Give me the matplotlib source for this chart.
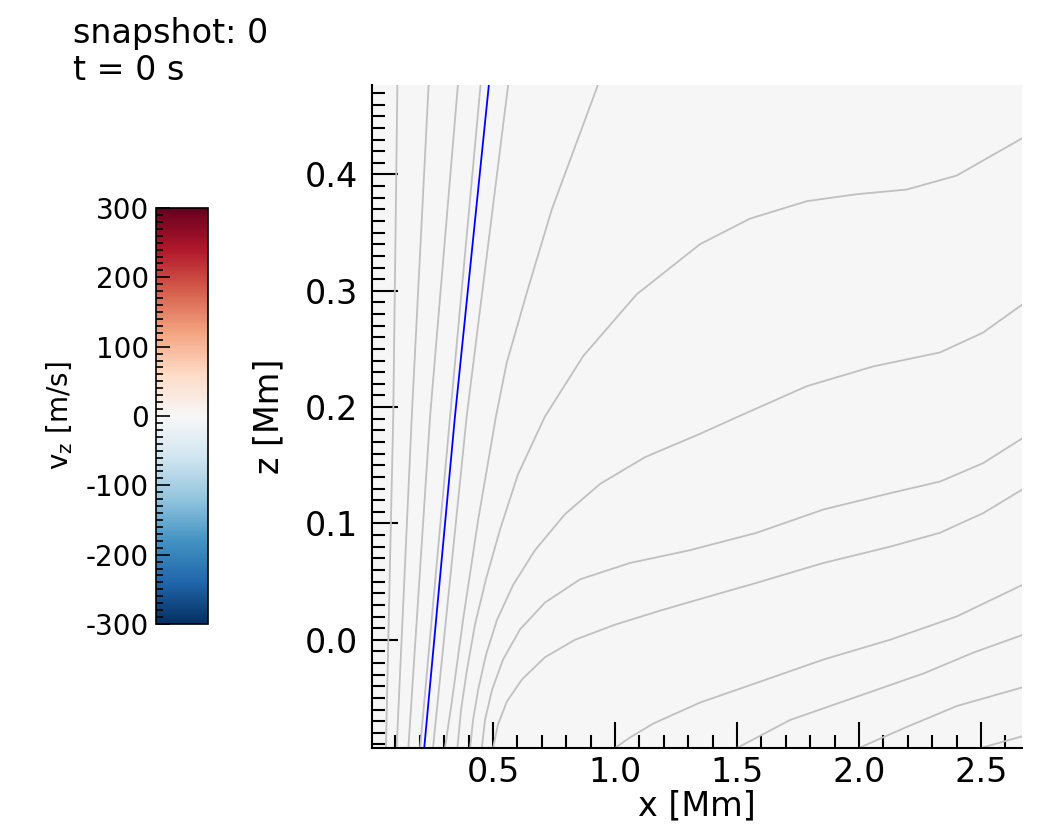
import numpy as np
import matplotlib
matplotlib.use("Agg")
import matplotlib.pyplot as plt
from matplotlib.ticker import MultipleLocator

plt.rcParams['axes.unicode_minus'] = False

# snapshot 0: velocity is zero everywhere
snapshot = 0
time_s = 0
vz_grid = np.zeros((2, 2))
x_edges = [0.0, 1.35, 2.67]
z_edges = [-0.093, 0.19, 0.477]

# field lines, (x [Mm], z [Mm])
grey_lines = [
    [(0.061, -0.093), (0.091, 0.192), (0.108, 0.477)],
    [(0.105, -0.093), (0.167, 0.192), (0.236, 0.477)],
    [(0.153, -0.093), (0.242, 0.192), (0.356, 0.477)],
    [(0.201, -0.093), (0.324, 0.192), (0.449, 0.477)],
    [(0.254, -0.093), (0.307, 0.017), (0.392, 0.192), (0.562, 0.477)],
    [(0.303, -0.093), (0.332, -0.052), (0.377, 0.017), (0.439, 0.103), (0.512, 0.192),
     (0.556, 0.238), (0.638, 0.298), (0.741, 0.370), (0.930, 0.477)],
    [(0.354, -0.093), (0.369, -0.060), (0.393, -0.026), (0.426, 0.013), (0.471, 0.052),
     (0.529, 0.095), (0.602, 0.142), (0.713, 0.192), (0.870, 0.244), (1.089, 0.297),
     (1.348, 0.340), (1.553, 0.362), (1.786, 0.377), (1.990, 0.383), (2.195, 0.387),
     (2.400, 0.399), (2.668, 0.431)],
    [(0.406, -0.093), (0.418, -0.069), (0.439, -0.043), (0.471, -0.013), (0.516, 0.017),
     (0.582, 0.047), (0.672, 0.077), (0.795, 0.108), (0.939, 0.134), (1.123, 0.157),
     (1.348, 0.177), (1.485, 0.190), (1.786, 0.218), (2.059, 0.235), (2.332, 0.247),
     (2.508, 0.264), (2.668, 0.288)],
    [(0.454, -0.093), (0.467, -0.069), (0.496, -0.043), (0.541, -0.017), (0.611, 0.009),
     (0.713, 0.032), (0.857, 0.052), (1.061, 0.066), (1.307, 0.077), (1.581, 0.092),
     (1.854, 0.112), (2.127, 0.126), (2.332, 0.136), (2.510, 0.152), (2.668, 0.173)],
    [(0.5, -0.093), (0.520, -0.073), (0.557, -0.053), (0.619, -0.034), (0.713, -0.015),
     (0.836, 0.0), (1.0, 0.013), (1.184, 0.025), (1.348, 0.035), (1.581, 0.049),
     (1.854, 0.066), (2.127, 0.080), (2.332, 0.092), (2.510, 0.109), (2.668, 0.129)],
    [(1.0, -0.093), (1.061, -0.084), (1.157, -0.072), (1.348, -0.054), (1.581, -0.037),
     (1.854, -0.017), (2.127, 0.0), (2.400, 0.020), (2.668, 0.047)],
    [(1.5, -0.093), (1.717, -0.069), (1.990, -0.049), (2.264, -0.029), (2.469, -0.011),
     (2.668, 0.004)],
    [(2.0, -0.093), (2.195, -0.075), (2.400, -0.057), (2.668, -0.041)],
    [(2.5, -0.093), (2.668, -0.083)],
]
blue_line = [(0.218, -0.093), (0.344, 0.192), (0.483, 0.477)]

fig = plt.figure(figsize=(10.4, 8.32), dpi=100)
ax = fig.add_axes([0.3577, 0.101, 0.625, 0.797])
cax = fig.add_axes([0.15, 0.25, 0.05, 0.5])

mesh = ax.pcolormesh(x_edges, z_edges, vz_grid, cmap='RdBu_r', vmin=-300, vmax=300)
for line in grey_lines:
    xs, zs = zip(*line)
    ax.plot(xs, zs, color='#c0c0c0', lw=1.3)
xs, zs = zip(*blue_line)
ax.plot(xs, zs, color='blue', lw=1.3)

ax.set_xlim(0.004, 2.668)
ax.set_ylim(-0.093, 0.477)
for s in ['top', 'right']:
    ax.spines[s].set_visible(False)
for s in ['left', 'bottom']:
    ax.spines[s].set_linewidth(1.5)
ax.xaxis.set_major_locator(MultipleLocator(0.5))
ax.xaxis.set_minor_locator(MultipleLocator(0.1))
ax.yaxis.set_major_locator(MultipleLocator(0.1))
ax.yaxis.set_minor_locator(MultipleLocator(0.01))
ax.tick_params(which='both', direction='in', width=1.5, labelsize=24)
ax.tick_params(axis='y', pad=10)
ax.tick_params(axis='x', pad=6)
ax.tick_params(which='major', length=19)
ax.tick_params(which='minor', length=9.5)
ax.set_xlabel('x [Mm]', fontsize=24, labelpad=0)
ax.set_ylabel('z [Mm]', fontsize=24, labelpad=14)

cb = fig.colorbar(mesh, cax=cax)
cb.outline.set_linewidth(1.2)
cax.yaxis.set_ticks_position('left')
cax.yaxis.set_label_position('left')
cb.set_ticks(np.arange(-300, 301, 100))
cax.yaxis.set_minor_locator(MultipleLocator(10))
cax.tick_params(which='both', direction='in', width=1.2, labelsize=20, pad=5)
cax.tick_params(which='major', length=10)
cax.tick_params(which='minor', length=5)
cb.set_label(r'v$_\mathrm{z}$ [m/s]', fontsize=20, labelpad=8)

fig.text(0.07, 0.980, 'snapshot: %d\nt = %d s' % (snapshot, time_s), fontsize=24,
         va='top', ha='left', linespacing=1.15)

fig.savefig('out.png', dpi=100)
